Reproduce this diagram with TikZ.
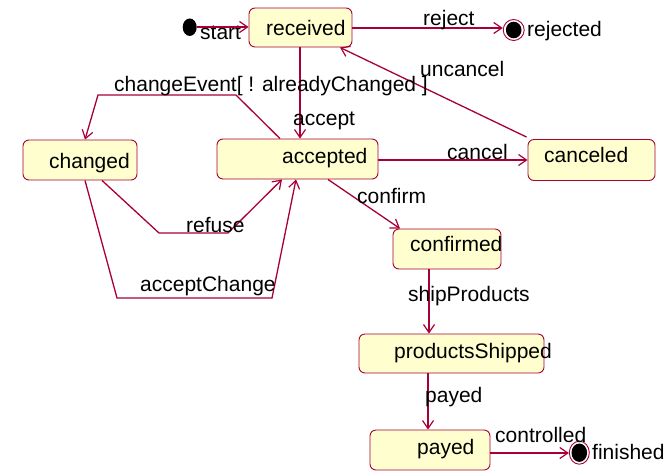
\documentclass[tikz,border=0pt]{standalone}
\usepackage{fontspec}
\setmainfont{Liberation Sans}
\usetikzlibrary{arrows.meta,shapes.geometric}
\definecolor{umlred}{HTML}{A80036}
\definecolor{umlfill}{HTML}{FEFECE}
\tikzset{
  statebox/.style={draw=umlred, fill=umlfill, line width=0.9pt, rounded corners=6pt, inner sep=0pt},
  txt/.style={inner sep=0pt, anchor=base west, font=\fontsize{21}{25}\selectfont},
  arr/.style={draw=umlred, line width=1.3pt, -{Straight Barb[length=8pt,width=11pt,line width=1.2pt]}},
}
\begin{document}
\begin{tikzpicture}[x=1pt,y=-1pt]
\useasboundingbox (0,0) rectangle (668,472);
% states
\node[statebox, minimum width=103pt, minimum height=39pt] (received) at (300.5,27.5) {};
\node[statebox, minimum width=114pt, minimum height=40pt] (changed) at (80,160) {};
\node[statebox, minimum width=161pt, minimum height=40pt] (accepted) at (297.5,159) {};
\node[statebox, minimum width=127pt, minimum height=41pt] (canceled) at (591.5,160) {};
\node[statebox, minimum width=108pt, minimum height=40pt] (confirmed) at (447,249) {};
\node[statebox, minimum width=185pt, minimum height=39pt] (shipped) at (451.5,353.5) {};
\node[statebox, minimum width=120pt, minimum height=40pt] (payedbox) at (430,450) {};
% pseudo states
\node[fill=black, ellipse, minimum width=14pt, minimum height=17.5pt, inner sep=0pt] (init) at (189.7,27.2) {};
\node[draw=umlred, fill=white, circle, line width=0.9pt, minimum size=21pt, inner sep=0pt] (rej) at (513.7,30) {};
\fill[black] (rej.center) ellipse [x radius=7.8pt, y radius=8.3pt];
\node[draw=umlred, fill=white, ellipse, line width=0.9pt, minimum width=20pt, minimum height=23pt, inner sep=0pt] (fin) at (579.3,452.7) {};
\fill[black] (fin.center) ellipse [x radius=7.8pt, y radius=9.2pt];
% state texts
\node[txt] (t-received) at (266,35) {received};
\node[txt] (t-changed) at (49,168) {changed};
\node[txt] (t-accepted) at (282,163) {accepted};
\node[txt] (t-canceled) at (544,162) {canceled};
\node[txt] (t-confirmed) at (410,251) {confirmed};
\node[txt] (t-shipped) at (394,358) {productsShipped};
\node[txt] (t-payed) at (417,454) {payed};
\node[txt] (t-start) at (200,39) {start};
\node[txt] (t-rejected) at (527,36) {rejected};
\node[txt] (t-finished) at (592,459) {finished};
% bend points
\coordinate (ce1) at (236,95);
\coordinate (ce2) at (98,95);
\coordinate (rf1) at (159,233);
\coordinate (rf2) at (228,233);
\coordinate (ac1) at (117,298);
\coordinate (ac2) at (272,298);
% transitions
\draw[arr] (init.east |- 0,27) -- (received.west |- 0,27);
\draw[arr] (received.east |- 0,28) -- (rej.west |- 0,28);
\draw[arr] (received.south -| 300,0) -- (accepted.north -| 300,0);
\draw[arr] (accepted.north -| 280,0) -- (ce1) -- (ce2) -- (changed.north -| 85,0);
\draw[arr] (changed.south -| 102,0) -- (rf1) -- (rf2) -- (accepted.south -| 282,0);
\draw[arr] (changed.south -| 85,0) -- (ac1) -- (ac2) -- (accepted.south -| 296,0);
\draw[arr] (accepted.east |- 0,160) -- (canceled.west |- 0,160);
\draw[arr] ([xshift=-1pt,yshift=2pt]canceled.north west) -- (received.south -| 340,0);
\draw[arr] (accepted.south -| 328,0) -- (confirmed.north -| 400,0);
\draw[arr] (confirmed.south -| 429,0) -- (shipped.north -| 429,0);
\draw[arr] (shipped.south -| 428,0) -- (payedbox.north -| 428,0);
\draw[arr] (payedbox.east |- 0,453) -- (fin.west |- 0,453);
% transition labels
\node[txt] (l-reject) at (423,25) {reject};
\node[txt] (l-uncancel) at (420,76) {uncancel};
\node[txt] (l-change) at (114,91) {changeEvent[ ! alreadyChanged ]};
\node[txt] (l-accept) at (293,125) {accept};
\node[txt] (l-refuse) at (186,232) {refuse};
\node[txt] (l-acceptChange) at (140,291) {acceptChange};
\node[txt] (l-cancel) at (447,159) {cancel};
\node[txt] (l-confirm) at (357,203) {confirm};
\node[txt] (l-ship) at (408,301) {shipProducts};
\node[txt] (l-payed) at (425,402) {payed};
\node[txt] (l-controlled) at (495,442) {controlled};
\end{tikzpicture}
\end{document}
